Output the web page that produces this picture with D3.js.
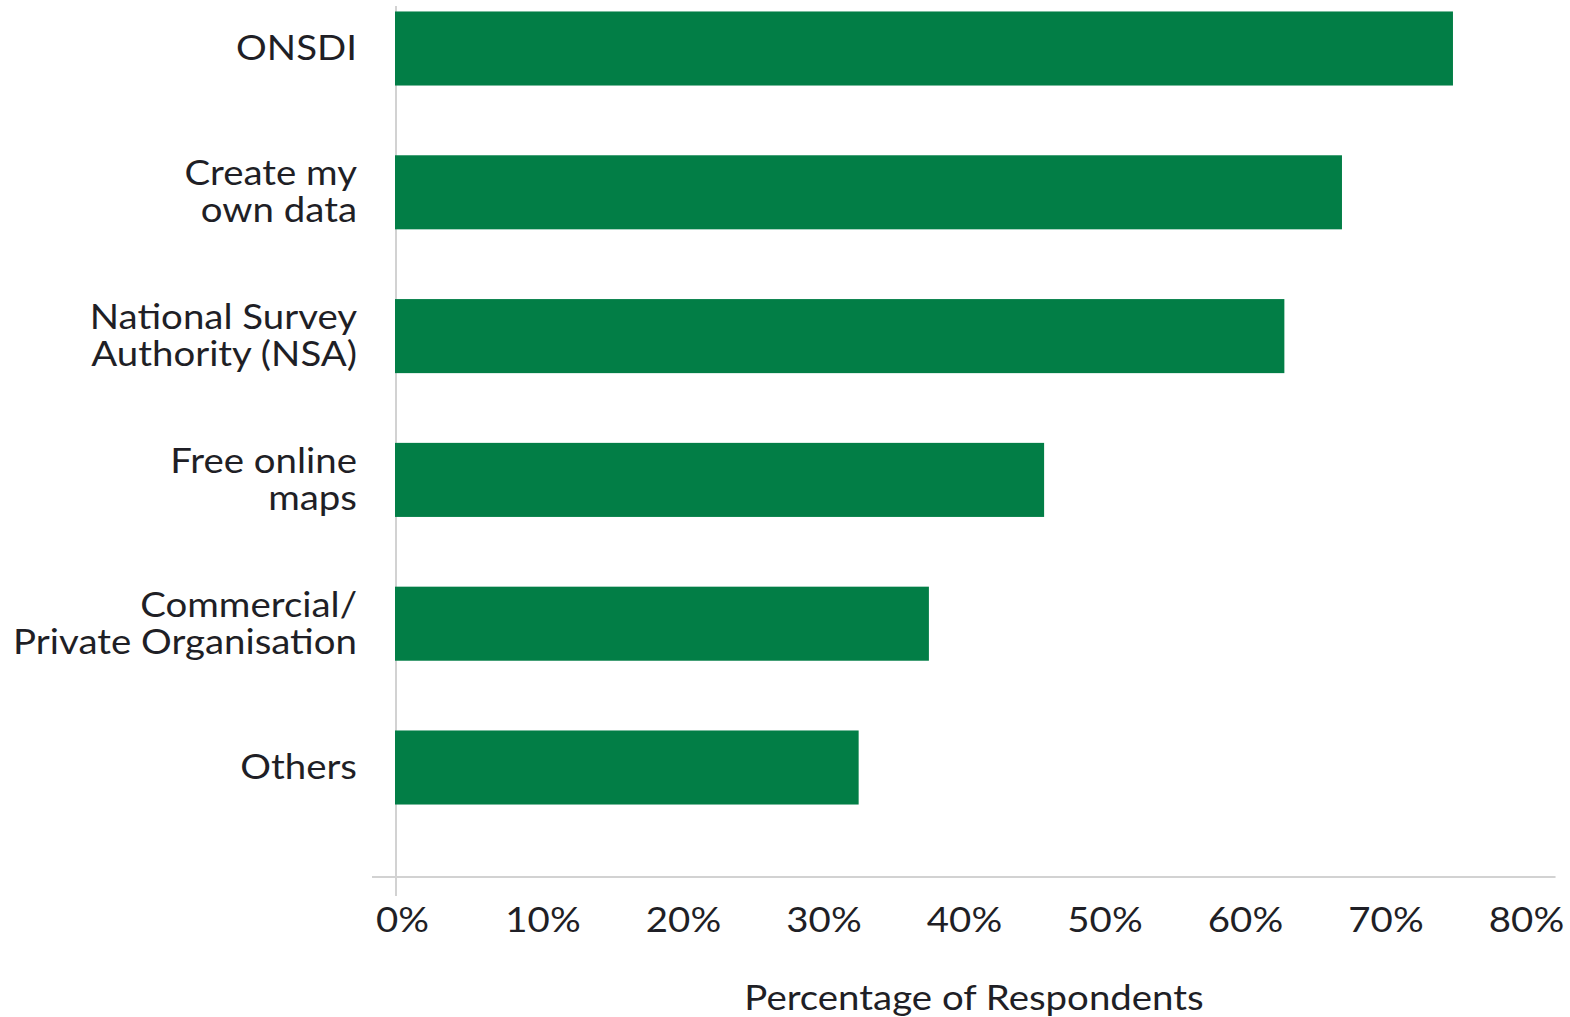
<!DOCTYPE html>
<html>
<head>
<meta charset="utf-8">
<script src="https://cdn.jsdelivr.net/npm/d3@7"></script>
<style>
  html, body { margin: 0; padding: 0; background: #ffffff; }
  svg { display: block; }
  text { font-family: Lato, "Open Sans", sans-serif; fill: #1f1f26; }
</style>
</head>
<body>
<svg id="chart" width="1570" height="1017"></svg>
<script>
// ---- data ----
const categories = [
  ["ONSDI"],
  ["Create my", "own data"],
  ["National Survey", "Authority (NSA)"],
  ["Free online", "maps"],
  ["Commercial/", "Private Organisation"],
  ["Others"]
];
const values = [75.3, 67.4, 63.3, 46.2, 38.0, 33.0];
const tickValues = [0, 10, 20, 30, 40, 50, 60, 70, 80];
const tickLabels = ["0%", "10%", "20%", "30%", "40%", "50%", "60%", "70%", "80%"];
const axisTitle = "Percentage of Respondents";

// ---- layout ----
const svg = d3.select("#chart");
const barColor = "#027e46";
const axisColor = "#d2d2d2";
const fontSize = 34;
const lineH = 37;
const stretch = 1.13;

const keys = categories.map(c => c.join(" "));
const x = d3.scaleLinear().domain([0, 80]).range([395, 1519]);
const y = d3.scaleBand().domain(keys).range([-23.4, 839.4])
  .paddingInner(0.485).paddingOuter(0.2425);
const axisY = 877;

// axis lines
svg.append("line")
  .attr("x1", x(0) + 1).attr("x2", x(0) + 1)
  .attr("y1", 6).attr("y2", axisY + 19)
  .attr("stroke", axisColor).attr("stroke-width", 2);
svg.append("line")
  .attr("x1", x(0) - 23).attr("x2", x(82.6))
  .attr("y1", axisY).attr("y2", axisY)
  .attr("stroke", axisColor).attr("stroke-width", 2);

// bars
svg.append("g").selectAll("rect")
  .data(values)
  .join("rect")
  .attr("x", x(0))
  .attr("y", (d, i) => y(keys[i]))
  .attr("width", d => x(d) - x(0))
  .attr("height", y.bandwidth())
  .attr("fill", barColor);

// category labels
const lab = svg.append("g").attr("transform", `translate(357,0) scale(${stretch},1)`);
categories.forEach((lines, i) => {
  const cy = y(keys[i]) + y.bandwidth() / 2;
  const t = lab.append("text")
    .attr("text-anchor", "end")
    .attr("font-size", fontSize);
  lines.forEach((ln, j) => {
    t.append("tspan")
      .attr("x", 0)
      .attr("y", cy + 11.5 + (j - (lines.length - 1) / 2) * lineH)
      .text(ln);
  });
});

// x axis tick labels via d3 axis
const xAxis = d3.axisBottom(x)
  .tickValues(tickValues)
  .tickFormat((d, i) => tickLabels[i])
  .tickSize(0)
  .tickPadding(0);
const gx = svg.append("g").attr("transform", `translate(0, ${axisY})`).call(xAxis);
gx.select(".domain").remove();
gx.selectAll("text")
  .attr("font-size", fontSize)
  .attr("font-family", "Lato, 'Open Sans', sans-serif")
  .attr("fill", "#1f1f26")
  .attr("dy", null)
  .attr("x", 7 / stretch)
  .attr("y", 55)
  .attr("transform", `scale(${stretch},1)`);

// axis title
svg.append("text")
  .attr("transform", `translate(974,1010) scale(${stretch},1)`)
  .attr("text-anchor", "middle")
  .attr("font-size", fontSize)
  .text(axisTitle);
</script>
</body>
</html>
